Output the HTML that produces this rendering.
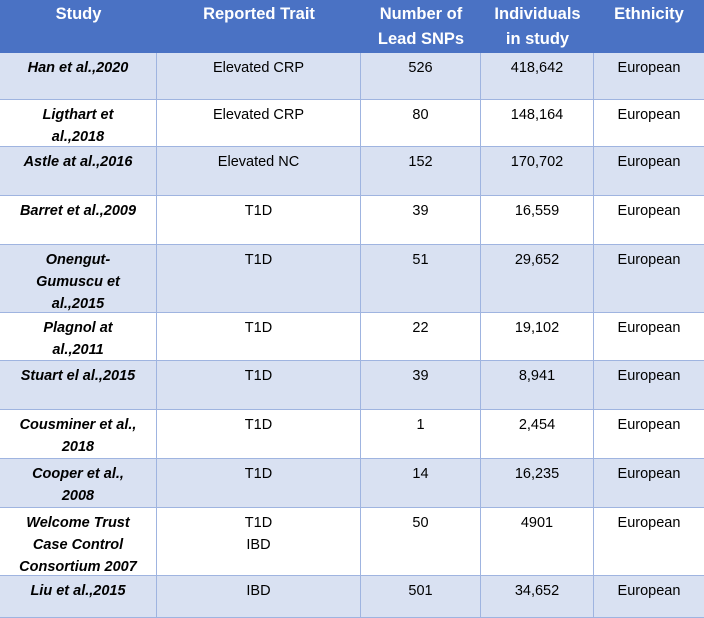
<!DOCTYPE html>
<html><head><meta charset="utf-8"><style>
body{margin:0;width:704px;height:618px;overflow:hidden;background:#fff;font-family:"Liberation Sans",sans-serif}
#t{position:relative;width:704px;height:618px}
.row{position:absolute;left:0;width:704px;border-bottom:1px solid #9fb4e0}
.c{position:absolute;top:0;bottom:0;text-align:center;font-size:14.5px;line-height:22px;color:#000;padding-top:4px;box-sizing:border-box;border-right:1px solid #9fb4e0}
.s{font-weight:bold;font-style:italic}
.h .c{color:#fff;font-weight:bold;font-size:16.5px;line-height:25px;padding-top:2px;border-right:none}
</style></head><body>
<div id="t">
<div class="row h" style="top:0;height:53px;background:#4a72c4;border-bottom:none">
<div class="c" style="left:0;width:157px">Study</div>
<div class="c" style="left:157px;width:204px">Reported Trait</div>
<div class="c" style="left:361px;width:120px">Number of<br>Lead SNPs</div>
<div class="c" style="left:481px;width:113px">Individuals<br>in study</div>
<div class="c" style="left:594px;width:110px">Ethnicity</div>
</div>
<div id="body"></div>
</div>
<script>
const studies=["Han et al.,2020","Ligthart et<br>al.,2018","Astle at al.,2016","Barret et al.,2009","Onengut-<br>Gumuscu et<br>al.,2015","Plagnol at<br>al.,2011","Stuart el al.,2015","Cousminer et al.,<br>2018","Cooper et al.,<br>2008","Welcome Trust<br>Case Control<br>Consortium 2007","Liu et al.,2015"];
const traits=["Elevated CRP","Elevated CRP","Elevated NC","T1D","T1D","T1D","T1D","T1D","T1D","T1D<br>IBD","IBD"];
const snps=["526","80","152","39","51","22","39","1","14","50","501"];
const individuals=["418,642","148,164","170,702","16,559","29,652","19,102","8,941","2,454","16,235","4901","34,652"];
const ethnicity=["European","European","European","European","European","European","European","European","European","European","European"];
const bounds=[53,100,147,196,245,313,361,410,459,508,576,618];
const body=document.getElementById('t');
const cols=[[0,157],[157,204],[361,120],[481,113],[594,110]];
for(let i=0;i<studies.length;i++){
 const r=document.createElement('div');
 r.className='row';
 
 
 r.style.top=bounds[i]+'px';
 r.style.height=(bounds[i+1]-bounds[i]-1)+'px';
 r.style.background=i%2===0?'#d9e1f2':'#ffffff';
 const vals=[studies[i],traits[i],snps[i],individuals[i],ethnicity[i]];
 const names=['study-cell','trait-cell','snps-cell','individuals-cell','ethnicity-cell'];
 vals.forEach((v,j)=>{
  const c=document.createElement('div');
  c.className='c'+(j===0?' s':'');
  
  
  c.style.left=cols[j][0]+'px';c.style.width=cols[j][1]+'px';
  if(j===4)c.style.borderRight='none';
  c.innerHTML=v;
  r.appendChild(c);
 });
 body.appendChild(r);
}
</script>
</body></html>
